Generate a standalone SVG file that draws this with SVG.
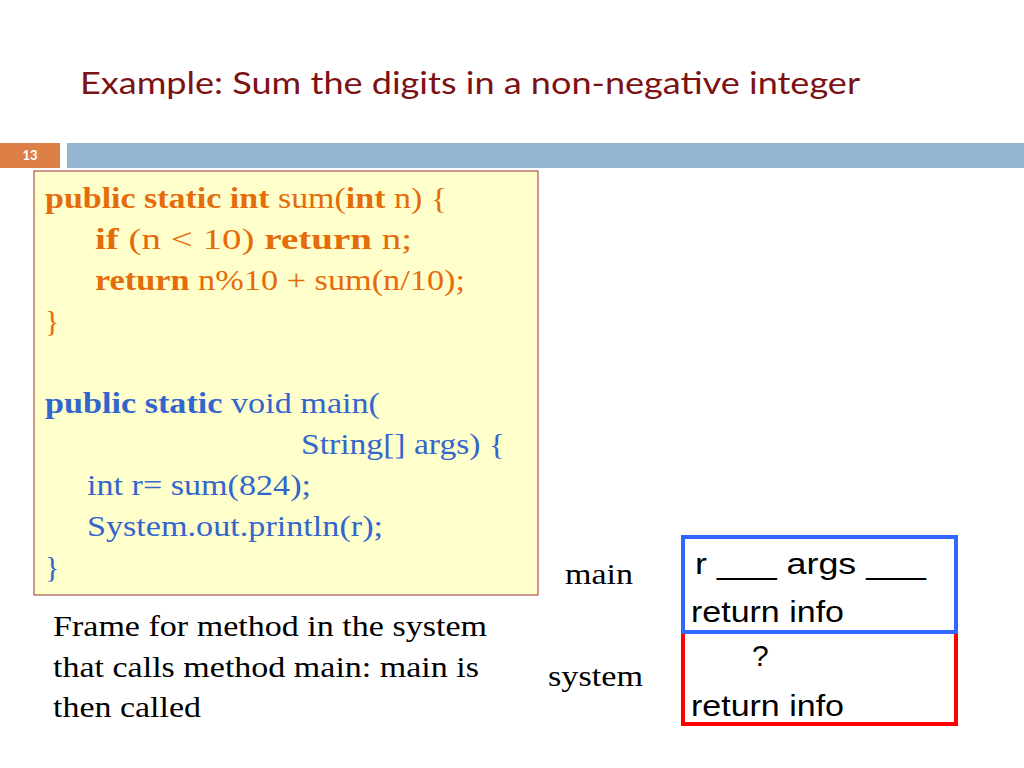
<svg xmlns="http://www.w3.org/2000/svg" width="1024" height="768" viewBox="0 0 1024 768">
<style>
.s{font-family:"Liberation Serif",serif;font-size:30px}
.o{fill:#e46c0a}.b{fill:#3366cc}.k{fill:#000}
.a{font-family:"Liberation Sans",sans-serif;font-size:30px;fill:#000}
</style>
<rect width="1024" height="768" fill="#fff"/>
<text x="80" y="94" font-family="Lato,'Open Sans',sans-serif" font-size="31" fill="#7b1214" textLength="780" lengthAdjust="spacingAndGlyphs">Example: Sum the digits in a non-negative integer</text>
<g id="header">
<rect x="0" y="143" width="60" height="25" fill="#dd8047"/>
<text x="30" y="160" font-family="Lato,sans-serif" font-size="13" font-weight="bold" fill="#fff" text-anchor="middle">13</text>
<rect x="67" y="143" width="957" height="25" fill="#94b6d2"/>
</g>
<g id="code">
<rect x="34" y="171" width="504" height="424" fill="#ffffcc" stroke="#a0302c" stroke-width="1"/>
<text class="s o" x="45" y="208" textLength="402" lengthAdjust="spacingAndGlyphs"><tspan font-weight="bold">public static int</tspan> sum(<tspan font-weight="bold">int</tspan> n) {</text>
<text class="s o" x="95" y="249" textLength="317" lengthAdjust="spacingAndGlyphs"><tspan font-weight="bold">if</tspan> (n &lt; 10) <tspan font-weight="bold">return</tspan> n;</text>
<text class="s o" x="95" y="290" textLength="370" lengthAdjust="spacingAndGlyphs"><tspan font-weight="bold">return</tspan> n%10 + sum(n/10);</text>
<text class="s o" x="45" y="331">}</text>
<text class="s b" x="45" y="413" textLength="335" lengthAdjust="spacingAndGlyphs"><tspan font-weight="bold">public static</tspan> void main(</text>
<text class="s b" x="301" y="454" textLength="204" lengthAdjust="spacingAndGlyphs">String[] args) {</text>
<text class="s b" x="87" y="495" textLength="224" lengthAdjust="spacingAndGlyphs">int r= sum(824);</text>
<text class="s b" x="87" y="536" textLength="296" lengthAdjust="spacingAndGlyphs">System.out.println(r);</text>
<text class="s b" x="45" y="577">}</text>
</g>
<g id="caption">
<text class="s k" x="53" y="636" textLength="434" lengthAdjust="spacingAndGlyphs">Frame for method in the system</text>
<text class="s k" x="53" y="677" textLength="426" lengthAdjust="spacingAndGlyphs">that calls method main: main is</text>
<text class="s k" x="53" y="717" textLength="148" lengthAdjust="spacingAndGlyphs">then called</text>
</g>
<g id="frames">
<text class="s k" x="565" y="584" textLength="68" lengthAdjust="spacingAndGlyphs">main</text>
<text class="s k" x="548" y="686" textLength="95" lengthAdjust="spacingAndGlyphs">system</text>
<rect x="683" y="632" width="273" height="92" fill="none" stroke="#ff0000" stroke-width="4"/>
<rect x="683" y="537" width="273" height="95" fill="none" stroke="#3366ff" stroke-width="4"/>
<text class="a" x="695" y="574" textLength="231" lengthAdjust="spacingAndGlyphs">r ___  args ___</text>
<text class="a" x="691" y="622" textLength="153" lengthAdjust="spacingAndGlyphs">return info</text>
<text class="a" x="752" y="666">?</text>
<text class="a" x="691" y="716" textLength="153" lengthAdjust="spacingAndGlyphs">return info</text>
</g>
<g id="connectors"/>
</svg>
